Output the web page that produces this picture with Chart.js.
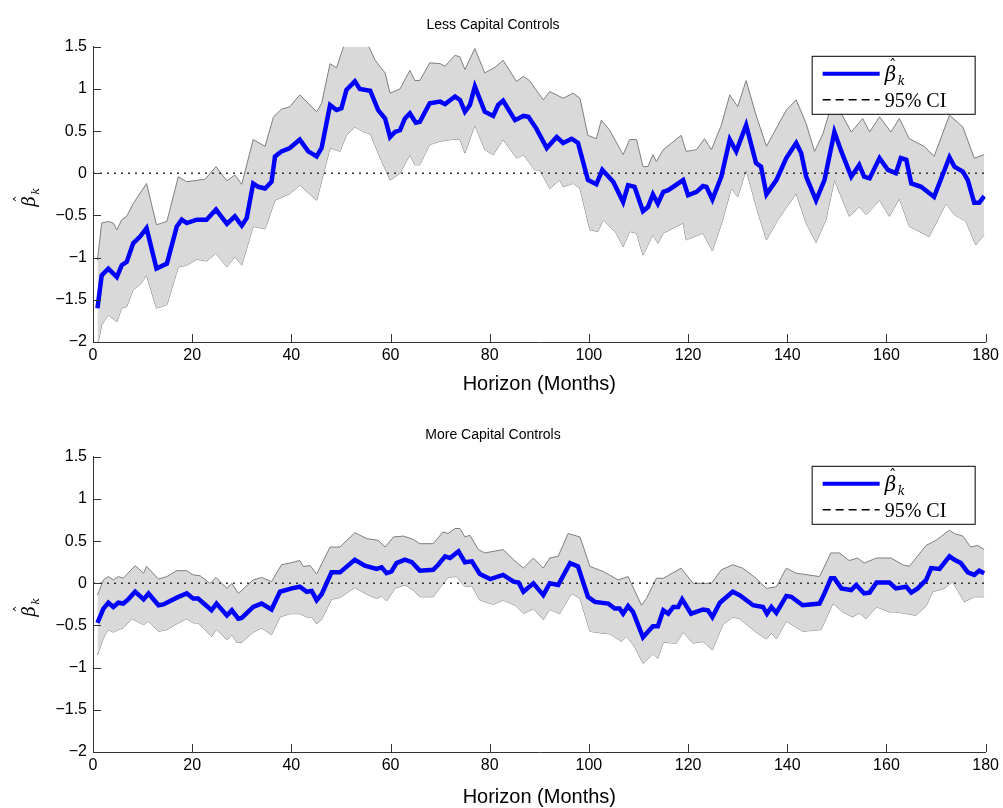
<!DOCTYPE html>
<html><head><meta charset="utf-8">
<script src="https://cdn.jsdelivr.net/npm/chart.js@4.4.0/dist/chart.umd.min.js"></script>
<style>html,body{margin:0;padding:0;background:#fff;width:1003px;height:808px;overflow:hidden}
.w{position:absolute;left:0;width:1003px;height:404px}</style></head>
<body>
<div class="w" style="top:0"><canvas id="c1"></canvas></div>
<div class="w" style="top:410px"><canvas id="c2"></canvas></div>
<script>
const titles=["Less Capital Controls","More Capital Controls"];
const xTicks=[0,20,40,60,80,100,120,140,160,180];
const yTicks=[-2,-1.5,-1,-0.5,0,0.5,1,1.5];
const legendLabels=["β","95% CI"];

const topBetaM=[0.9,1.75,3.1,4.8,5.8,6.8,8.1,9.5,10.8,12.8,14.9,16.9,17.9,18.9,20.9,22.9,24.8,27,28.6,30,31,32.3,33.3,34.7,36,36.7,38,39.7,41.7,43.4,45.1,46.1,47.8,49.1,50.1,51.1,52.8,53.8,55.9,57.5,58.9,59.9,60.9,61.9,62.9,63.9,65.1,65.9,67.9,70,71,73,74,75,76,77,79,80.7,81.7,82.7,85.1,86.8,87.8,89.4,91.5,93.5,94.8,96.5,97.8,99.8,101.5,102.7,104.9,106.9,107.9,109.2,110.9,111.9,112.9,113.9,115,116,119,120,121.7,123,123.7,124.9,126.7,128.4,129.7,131.7,133.7,134.7,135.8,137.8,139.8,141.8,142.8,143.8,145.8,147.5,149.5,150.9,152.9,154.5,155.5,156.6,158.6,160.3,161.9,162.9,164,165,167,169.6,172.7,173.7,175.4,176.4,177.7,178.7,179.7];
const topBetaV=[-1.6,-1.21,-1.13,-1.23,-1.09,-1.05,-0.83,-0.75,-0.65,-1.13,-1.07,-0.63,-0.55,-0.59,-0.55,-0.55,-0.43,-0.6,-0.51,-0.62,-0.53,-0.12,-0.16,-0.18,-0.1,0.2,0.26,0.3,0.4,0.26,0.2,0.3,0.81,0.75,0.77,0.99,1.09,1.0,0.98,0.75,0.65,0.43,0.49,0.51,0.65,0.71,0.6,0.61,0.83,0.85,0.82,0.91,0.87,0.73,0.81,1.03,0.73,0.68,0.81,0.86,0.63,0.68,0.67,0.53,0.3,0.43,0.36,0.41,0.36,-0.08,-0.13,0.04,-0.1,-0.34,-0.14,-0.16,-0.45,-0.4,-0.25,-0.36,-0.22,-0.2,-0.08,-0.26,-0.22,-0.15,-0.16,-0.31,-0.04,0.4,0.26,0.57,0.12,0.08,-0.25,-0.08,0.18,0.36,0.24,-0.04,-0.32,-0.08,0.49,0.26,-0.04,0.1,-0.04,-0.06,0.18,0.04,0,0.18,0.16,-0.12,-0.16,-0.28,0.19,0.08,0.02,-0.08,-0.35,-0.35,-0.27];
const topUpM=[0.9,1.75,3.1,4.1,4.8,5.8,6.8,8.1,10.8,12.8,14.9,17.2,18.9,22.6,24.8,27,28.6,30,32.3,34.7,36.4,38,39.7,41.7,45.1,46.1,47.8,49.1,50.5,52,55,56.9,58.9,59.9,61.9,63.9,64.9,65.9,67.9,70,71,73,74,75,77,79,81.1,82.7,85.4,86.8,88,90.8,92.1,94.8,96.8,98.2,99.8,101.5,102.5,104.2,106.9,108.2,109.6,110.9,111.9,112.9,113.6,115,118.6,119.6,121.7,123.3,124.7,126.7,128.4,130,131.7,133.7,135.8,139.8,141.8,143.8,145.5,147.2,148.8,150.8,152.9,155.2,156.6,158.6,160.9,162.6,164.6,167.6,169.6,172.7,175.4,177.7,179.7];
const topUpV=[-1.03,-0.59,-0.57,-0.59,-0.67,-0.55,-0.51,-0.36,-0.12,-0.61,-0.57,-0.04,-0.1,-0.07,0.08,-0.09,-0.02,-0.13,0.4,0.32,0.67,0.76,0.79,0.93,0.73,0.83,1.3,1.25,1.5,1.62,1.58,1.34,1.19,0.95,1.0,1.22,1.1,1.1,1.31,1.3,1.27,1.4,1.38,1.23,1.48,1.19,1.26,1.34,1.09,1.15,1.1,0.87,0.97,0.89,0.95,0.89,0.45,0.41,0.63,0.51,0.22,0.4,0.4,0.08,0.08,0.22,0.14,0.28,0.45,0.26,0.28,0.41,0.28,0.57,0.93,0.79,1.1,0.69,0.32,0.75,0.87,0.59,0.26,0.47,0.79,0.72,0.49,0.65,0.49,0.67,0.49,0.65,0.41,0.32,0.2,0.69,0.55,0.18,0.22];
const topLoM=[0.9,1.75,3.1,4.8,5.8,6.8,8.1,9.5,10.8,12.8,14.9,17.2,18.9,20.9,22.9,24.8,27,28.6,30,32.3,34.7,36.7,39.7,41.7,45.1,47.8,49.8,51.1,52.8,54.5,55.9,57.5,59.9,61.9,63.9,64.9,65.9,67.9,70,72.3,74,75,77,79,80.7,82.7,85.4,86.8,89.1,90.1,92.1,94.1,94.8,96.8,98.2,100.2,101.8,102.9,105.5,106.9,108.2,109.6,110.9,112.9,113.9,115,119,119.6,123,124.9,127,128.7,130,131.7,134.1,135.8,138.1,141.8,143.8,145.8,147.8,149.5,152.5,154.5,155.9,158.6,160.6,162.6,164.6,168.6,172,173.7,176,178,179.7];
const topLoV=[-2.05,-1.8,-1.68,-1.76,-1.6,-1.58,-1.38,-1.32,-1.21,-1.6,-1.56,-1.11,-1.09,-1.02,-1.04,-0.95,-1.11,-0.99,-1.09,-0.63,-0.66,-0.32,-0.24,-0.14,-0.32,0.3,0.26,0.45,0.55,0.49,0.47,0.24,-0.08,0,0.22,0.1,0.1,0.34,0.38,0.4,0.4,0.24,0.57,0.28,0.22,0.4,0.18,0.22,0.04,0.04,-0.18,-0.08,-0.16,-0.12,-0.18,-0.67,-0.69,-0.55,-0.71,-0.87,-0.69,-0.71,-0.97,-0.73,-0.83,-0.71,-0.59,-0.79,-0.71,-0.92,-0.55,-0.18,-0.28,0.04,-0.47,-0.79,-0.55,-0.24,-0.59,-0.82,-0.55,-0.08,-0.51,-0.4,-0.49,-0.32,-0.51,-0.3,-0.63,-0.75,-0.36,-0.49,-0.57,-0.85,-0.73];

const botBetaM=[0.9,2.1,3.1,4.1,5.1,6.1,7.1,8.5,10.2,11.2,13.2,14.2,16.9,18.9,20.2,21.2,23.9,24.9,27,28,29.3,30,32.3,34,36,37.7,40.1,41.7,43.1,44.1,45.1,46.1,48.1,49.8,52.8,54.8,57.2,58.2,59.2,60.2,61.2,62.9,64.3,65.9,68.6,69.6,71,72,73.7,75,76.4,78,80.1,82.7,84.8,85.8,86.8,88.8,90.8,92.1,93.8,96.2,97.8,99.8,101.2,103.9,105.2,106.2,106.9,107.9,108.9,110.9,112.9,113.9,115,116,117,118,118.8,120.6,123,124,124.9,126.4,129,130.4,133.1,135.1,135.9,136.8,137.8,139.8,140.8,143.1,146.5,147.5,148.8,149.5,150.9,152.9,153.9,155.5,156.6,158,160.6,161.9,164,165,166.3,168,169,170.7,172.7,173.7,175,176.4,177.7,178.7,179.7];
const botBetaV=[-0.47,-0.3,-0.23,-0.28,-0.23,-0.24,-0.19,-0.1,-0.19,-0.12,-0.26,-0.25,-0.17,-0.12,-0.18,-0.18,-0.32,-0.24,-0.38,-0.32,-0.42,-0.41,-0.28,-0.24,-0.31,-0.1,-0.06,-0.04,-0.1,-0.09,-0.2,-0.13,0.13,0.13,0.28,0.21,0.17,0.19,0.12,0.14,0.24,0.28,0.25,0.15,0.16,0.22,0.32,0.3,0.38,0.25,0.26,0.11,0.05,0.1,0.02,0.01,-0.1,0,-0.14,0,-0.02,0.24,0.2,-0.16,-0.22,-0.24,-0.3,-0.3,-0.36,-0.27,-0.34,-0.64,-0.51,-0.51,-0.32,-0.36,-0.28,-0.28,-0.19,-0.36,-0.31,-0.32,-0.4,-0.23,-0.1,-0.14,-0.26,-0.28,-0.36,-0.28,-0.35,-0.15,-0.16,-0.26,-0.24,-0.12,0.06,0.06,-0.06,-0.08,-0.02,-0.12,-0.11,0.01,0.01,-0.06,-0.04,-0.11,-0.06,0.04,0.18,0.17,0.32,0.28,0.24,0.13,0.1,0.15,0.12];
const botUpM=[0.9,2.1,3.1,4.1,5.1,6.1,8.5,10.2,10.8,13.2,14.9,16.9,18.9,20.2,21.6,23.6,24.8,27,28,29.3,32.3,34,36,38,39.7,41.7,42.4,43.8,45.1,47.8,49.8,52.8,55.2,57.5,58.9,60.6,62.6,64.6,65.9,68.6,70.6,71.6,73,74,75,76,77.7,79,82.7,84.8,86.8,88.8,90.8,92.1,93.8,95.8,98.2,100.2,102.9,105.9,107.9,110.6,111.6,113.6,115,118.6,121,124.7,126.7,129,131,133.7,135.8,137.8,139.8,141.8,146.5,148.8,150.5,152.5,154.2,155.5,158,160.9,163.3,164.6,168,170,172.7,173.7,175.4,177,178.4,179.7];
const botUpV=[-0.14,0.04,0.08,0.04,0.08,0.06,0.21,0.12,0.2,0.05,0.08,0.15,0.15,0.1,0.09,0,0.07,-0.06,0,-0.12,0.04,0.07,0.02,0.22,0.24,0.27,0.2,0.21,0.11,0.43,0.43,0.6,0.53,0.51,0.43,0.55,0.56,0.52,0.47,0.47,0.61,0.59,0.65,0.65,0.55,0.57,0.4,0.36,0.4,0.28,0.18,0.3,0.18,0.3,0.32,0.59,0.55,0.2,0.14,0.04,0.08,-0.26,-0.18,0.06,0.06,0.18,0,0,0.16,0.22,0.18,0.06,-0.06,-0.04,0.18,0.12,0.08,0.36,0.36,0.27,0.3,0.24,0.3,0.3,0.22,0.2,0.45,0.51,0.63,0.59,0.56,0.43,0.45,0.4];
const botLoM=[0.9,2.1,3.1,4.1,5.1,6.1,7.8,10.2,11.2,13.2,14.9,16.9,18.9,20.2,21.2,23.9,24.9,27,28,29,30,32.3,34,36,37.7,39.7,41.7,43.1,44.1,45.1,46.1,48.1,49.8,52.8,55.2,57.2,58.2,59.2,60.9,62.9,64.6,65.9,68.6,69.6,71.6,73.3,75,76.4,78,80.7,82.7,85.1,86.8,88.8,90.8,92.1,94.1,96.5,98.2,100.2,102.5,104.2,106.6,107.6,109.2,110.9,112.9,113.9,115,117.6,119,121,123,124.9,127,129,130.4,133.7,135.8,136.8,137.8,139.8,143.1,146.8,149.2,151.2,153.2,154.5,155.9,158,160.6,161.9,164,165.9,168,169.3,171.7,173.3,175.7,177.7,179.7];
const botLoV=[-0.85,-0.65,-0.55,-0.58,-0.55,-0.53,-0.42,-0.49,-0.45,-0.57,-0.55,-0.48,-0.42,-0.47,-0.47,-0.63,-0.55,-0.67,-0.61,-0.7,-0.7,-0.58,-0.53,-0.61,-0.4,-0.36,-0.36,-0.4,-0.4,-0.48,-0.43,-0.19,-0.17,-0.05,-0.13,-0.18,-0.15,-0.21,-0.06,-0.02,-0.08,-0.16,-0.16,-0.08,0.07,0.08,-0.04,-0.03,-0.2,-0.25,-0.2,-0.26,-0.36,-0.3,-0.43,-0.31,-0.36,-0.12,-0.18,-0.57,-0.59,-0.6,-0.69,-0.63,-0.75,-0.95,-0.84,-0.89,-0.7,-0.71,-0.58,-0.71,-0.69,-0.79,-0.49,-0.4,-0.42,-0.58,-0.66,-0.59,-0.66,-0.45,-0.57,-0.55,-0.24,-0.34,-0.4,-0.35,-0.42,-0.28,-0.34,-0.34,-0.36,-0.38,-0.27,-0.1,-0.06,0.02,-0.22,-0.16,-0.16];

const pts=(m,v)=>m.map((x,i)=>({x,y:v[i]}));

function betaHat(ctx,x,y,size){
  ctx.font='italic '+size+'px "DejaVu Serif"';ctx.fillText('β',x,y);
  ctx.font=Math.round(size*0.75)+'px "DejaVu Serif"';ctx.fillText('ˆ',x+size*0.22,y-size*0.55);
  ctx.font='italic '+Math.round(size*0.62)+'px "DejaVu Serif"';ctx.fillText('k',x+size*0.66,y+size*0.2);
}
const deco={id:'deco',afterDatasetsDraw(ch){
  const {ctx,chartArea:a,scales:{x,y}}=ch;ctx.save();ctx.strokeStyle='#333';ctx.lineWidth=1;ctx.beginPath();
  xTicks.forEach(t=>{const p=Math.round(x.getPixelForValue(t))+0.5;ctx.moveTo(p,a.bottom);ctx.lineTo(p,a.bottom-8);});
  yTicks.forEach(t=>{const p=Math.round(y.getPixelForValue(t))+0.5;ctx.moveTo(a.left,p);ctx.lineTo(a.left+8,p);});
  ctx.stroke();
  const L=a.right-174,T=a.top+9,W=163,H=58;
  ctx.fillStyle='#fff';ctx.fillRect(L,T,W,H);ctx.strokeStyle='#000';ctx.lineWidth=1;ctx.strokeRect(L+0.5,T+0.5,W,H);
  ctx.strokeStyle='#0000ff';ctx.lineWidth=4;ctx.beginPath();ctx.moveTo(L+11,T+18);ctx.lineTo(L+68,T+18);ctx.stroke();
  ctx.strokeStyle='#000';ctx.lineWidth=1.5;ctx.setLineDash([8,5]);ctx.beginPath();ctx.moveTo(L+11,T+44);ctx.lineTo(L+68,T+44);ctx.stroke();ctx.setLineDash([]);
  ctx.fillStyle='#000';ctx.textBaseline='alphabetic';
  betaHat(ctx,L+73,T+25,20);
  ctx.font='20px "Liberation Serif"';ctx.fillText(legendLabels[1],L+73,T+51);
  ctx.translate(a.left-58,(a.top+a.bottom)/2+12);ctx.rotate(-Math.PI/2);
  betaHat(ctx,0,0,18);
  ctx.restore();}};

function make(id,title,xh,pb,bm,bv,um,uv,lm,lv){
  new Chart(document.getElementById(id),{type:'line',
    data:{datasets:[
      {data:pts(bm,bv),borderColor:'#0000ff',borderWidth:4.5,pointRadius:0,fill:false,tension:0},
      {data:[{x:0,y:0},{x:180,y:0}],borderColor:'#333',borderWidth:1.5,borderDash:[2,5],pointRadius:0,fill:false},
      {data:pts(um,uv),borderColor:'#7f7f7f',borderWidth:1,pointRadius:0,fill:'+1',backgroundColor:'#d9d9d9',tension:0},
      {data:pts(lm,lv),borderColor:'#7f7f7f',borderWidth:1,pointRadius:0,fill:false,tension:0}
    ]},
    options:{responsive:false,animation:false,devicePixelRatio:1,
      layout:{padding:{left:0,right:17,top:0,bottom:pb}},
      plugins:{legend:{display:false},tooltip:{enabled:false},
        title:{display:true,text:title,color:'#000',font:{family:'Liberation Sans',size:14,weight:'normal'},padding:{top:17,bottom:13}}},
      scales:{
        x:{type:'linear',min:0,max:180,afterBuildTicks:s=>{s.ticks=xTicks.map(v=>({value:v}));},
          grid:{display:false,drawTicks:false},border:{display:true,color:'#333',width:1},
          ticks:{color:'#000',font:{family:'Liberation Sans',size:16},padding:4},
          title:{display:true,text:'Horizon (Months)',color:'#000',font:{family:'Liberation Sans',size:20},padding:{top:0,bottom:0}},
          afterFit:s=>{s.height=xh;}},
        y:{min:-2,max:1.5,afterBuildTicks:s=>{s.ticks=yTicks.map(v=>({value:v}));},
          grid:{display:false,drawTicks:false},border:{display:true,color:'#333',width:1},
          ticks:{color:'#000',font:{family:'Liberation Sans',size:16},padding:6,callback:v=>String(v).replace('-','−')},
          afterFit:s=>{s.width=93;}}
      }},
    plugins:[deco]});
}
['c1','c2'].forEach(i=>{const c=document.getElementById(i);c.width=1003;c.height=404;});
make('c1',titles[0],54,8,topBetaM,topBetaV,topUpM,topUpV,topLoM,topLoV);
make('c2',titles[1],57,5,botBetaM,botBetaV,botUpM,botUpV,botLoM,botLoV);
</script></body></html>
